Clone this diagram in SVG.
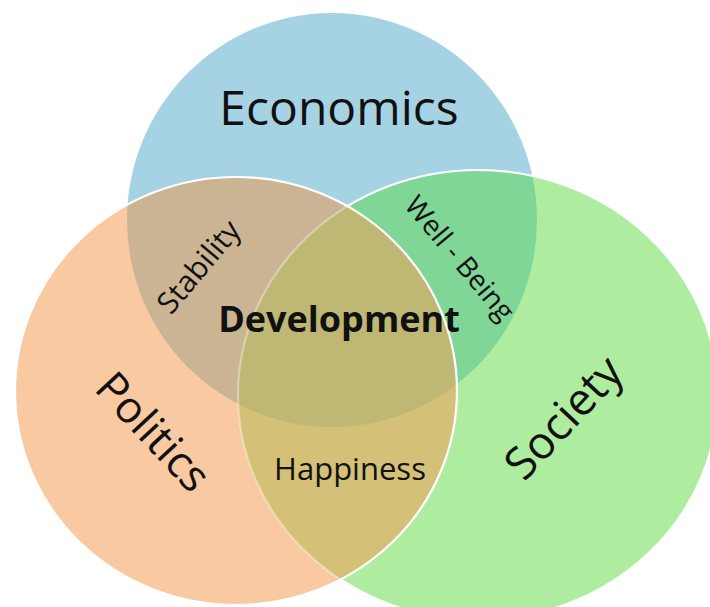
<svg xmlns="http://www.w3.org/2000/svg" width="710" height="607" viewBox="0 0 710 607">
  <style>
    .lbl { font-family: "Open Sans", "Liberation Sans", sans-serif; fill: #111; text-anchor: middle; }
    .edge { fill: none; stroke: #ffffff; stroke-width: 2.2; }
  </style>
  <defs>
    <clipPath id="clipEco"><ellipse cx="332" cy="220" rx="205" ry="207"/></clipPath>
    <clipPath id="clipPol"><ellipse cx="236" cy="391" rx="221" ry="214"/></clipPath>
    <clipPath id="clipSoc"><ellipse cx="478" cy="395" rx="240" ry="225"/></clipPath>
    <mask id="outsidePol">
      <rect x="0" y="0" width="710" height="607" fill="#fff"/>
      <ellipse cx="236" cy="391" rx="221" ry="214" fill="#000"/>
    </mask>
  </defs>

  <rect x="0" y="0" width="710" height="607" fill="#ffffff"/>

  <!-- base circles -->
  <g id="economics">
    <ellipse cx="332" cy="220" rx="205" ry="207" fill="#a6d3e3"/>
  </g>
  <g id="politics">
    <ellipse cx="236" cy="391" rx="221" ry="214" fill="#f9c9a2"/>
  </g>
  <g id="society">
    <ellipse cx="478" cy="395" rx="240" ry="225" fill="#aeeda0"/>
  </g>

  <!-- pairwise overlaps -->
  <g id="stability-region" clip-path="url(#clipEco)">
    <ellipse cx="236" cy="391" rx="221" ry="214" fill="#cbb494"/>
  </g>
  <g id="wellbeing-region" clip-path="url(#clipEco)">
    <ellipse cx="478" cy="395" rx="240" ry="225" fill="#80d697"/>
  </g>
  <g id="happiness-region" clip-path="url(#clipPol)">
    <ellipse cx="478" cy="395" rx="240" ry="225" fill="#d4c177"/>
  </g>
  <!-- triple overlap -->
  <g id="development-region" clip-path="url(#clipEco)">
    <ellipse cx="478" cy="395" rx="240" ry="225" fill="#bfb874" clip-path="url(#clipPol)"/>
  </g>

  <!-- circle outlines -->
  <g id="outlines">
    <ellipse class="edge" cx="478" cy="395" rx="240" ry="225" mask="url(#outsidePol)"/>
    <ellipse class="edge" cx="478" cy="395" rx="240" ry="225" clip-path="url(#clipPol)" stroke-opacity="0.35"/>
    <ellipse class="edge" cx="236" cy="391" rx="221" ry="214"/>
  </g>

  <!-- labels -->
  <g id="labels">
    <text class="lbl" x="339" y="125" font-size="48">Economics</text>
    <text class="lbl" x="339" y="332" font-size="36" font-weight="bold">Development</text>
    <text class="lbl" x="350" y="480" font-size="31">Happiness</text>
    <text class="lbl" font-size="30" transform="translate(199,267) rotate(-50)" y="10">Stability</text>
    <text class="lbl" font-size="28" transform="translate(460,258) rotate(50)" y="10">Well - Being</text>
    <text class="lbl" font-size="44" transform="translate(153,432) rotate(47)" y="15">Politics</text>
    <text class="lbl" font-size="45" transform="translate(564,418) rotate(-47)" y="15">Society</text>
  </g>
</svg>
